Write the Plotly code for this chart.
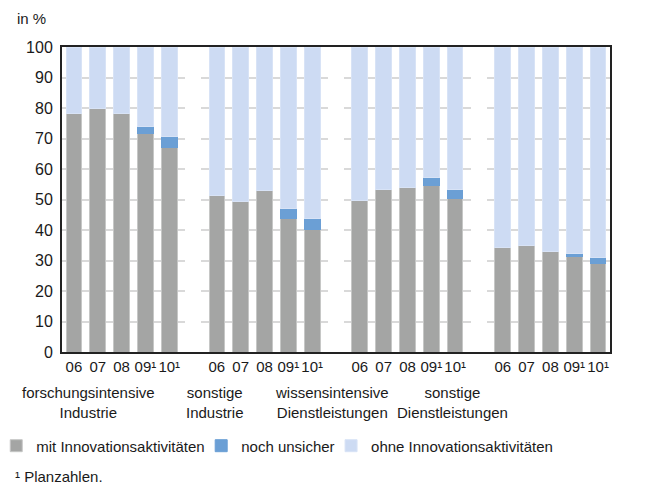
import plotly.graph_objects as go

# --- Datos ---
gruppen = ["forschungsintensive<br>Industrie", "sonstige<br>Industrie",
           "wissensintensive<br>Dienstleistungen", "sonstige<br>Dienstleistungen"]
jahre = ["06", "07", "08", "09¹", "10¹"]

mit_innovation = [78.2, 79.7, 78.1, 71.5, 66.9,
                  51.4, 49.5, 52.9, 43.9, 40.1,
                  49.6, 53.2, 54.1, 54.7, 50.2,
                  34.2, 34.8, 32.9, 31.4, 29.1]
noch_unsicher = [0, 0, 0, 2.5, 3.7,
                 0, 0, 0, 3.0, 3.7,
                 0, 0, 0, 2.4, 3.0,
                 0, 0, 0, 1.0, 1.9]
ohne_innovation = [21.8, 20.3, 21.9, 26.0, 29.4,
                   48.6, 50.5, 47.1, 53.1, 56.2,
                   50.4, 46.8, 45.9, 42.9, 46.8,
                   65.8, 65.2, 67.1, 67.6, 69.0]

# posiciones categóricas: cada grupo ocupa 5 barras + 1 hueco
x_pos = [g * 6 + j for g in range(len(gruppen)) for j in range(len(jahre))]
tick_text = [j for _ in gruppen for j in jahre]

FONT = "Liberation Sans, Arial, sans-serif"
TXT = "#1a1a1a"

fig = go.Figure()
series = [
    ("mit Innovationsaktivitäten", mit_innovation, "#a4a5a4", "#c6c7c6", "legend"),
    ("noch unsicher", noch_unsicher, "#6b9fd5", "#6b9fd5", "legend2"),
    ("ohne Innovationsaktivitäten", ohne_innovation, "#cddbf3", "#d8e3f6", "legend3"),
]
for name, vals, color, edge, leg in series:
    fig.add_trace(go.Bar(
        x=x_pos, y=vals, name=name, width=0.66, legend=leg,
        marker=dict(color=color, line=dict(color=edge, width=1)),
    ))

# --- Etiquetas de grupo ---
label_x = [0.63, 5.92, 10.83, 15.91]
for gx, label in zip(label_x, gruppen):
    fig.add_annotation(x=gx, y=-0.164, xref="x", yref="paper", text=label,
                       showarrow=False, xanchor="center", yanchor="middle",
                       font=dict(family=FONT, size=15, color=TXT))

fig.add_annotation(x=-0.0858, y=1.095, xref="paper", yref="paper", text="in %",
                   showarrow=False, xanchor="left", yanchor="middle",
                   font=dict(family=FONT, size=15, color=TXT))
fig.add_annotation(x=-0.09, y=-0.407, xref="paper", yref="paper", text="¹ Planzahlen.",
                   showarrow=False, xanchor="left", yanchor="middle",
                   font=dict(family=FONT, size=15, color=TXT))

# una leyenda por serie para acercar los elementos como en el original
def leyenda(x):
    return dict(orientation="h", x=x, y=-0.308, xanchor="left", yanchor="middle",
                font=dict(family=FONT, size=15, color=TXT), itemwidth=30,
                bgcolor="rgba(0,0,0,0)", visible=True)

# la página añade 8px de margen al cuerpo: la figura se reduce en consecuencia
fig.update_layout(
    width=638, height=476,
    margin=dict(l=54, r=36, t=39, b=132, autoexpand=False),
    barmode="stack", showlegend=True,
    plot_bgcolor="white", paper_bgcolor="white",
    font=dict(family=FONT, size=15, color=TXT),
    legend=leyenda(-0.12),
    legend2=leyenda(0.254),
    legend3=leyenda(0.491),
    xaxis=dict(range=[-0.5, 22.5], tickmode="array", tickvals=x_pos, ticktext=tick_text,
               showgrid=False, showline=True, linecolor="#222", linewidth=2, mirror=True,
               ticks="", tickfont=dict(size=15), tickangle=0, automargin=False),
    yaxis=dict(range=[0, 100], dtick=10, showgrid=True, gridcolor="#d9d9d9", gridwidth=1.5,
               griddash="4px,15.83px,4px,0px", automargin=False,
               showline=True, linecolor="#222", linewidth=2, mirror=True,
               ticks="", tickfont=dict(size=16), ticklabelstandoff=4, zeroline=False),
)

fig.write_html("out.html")
